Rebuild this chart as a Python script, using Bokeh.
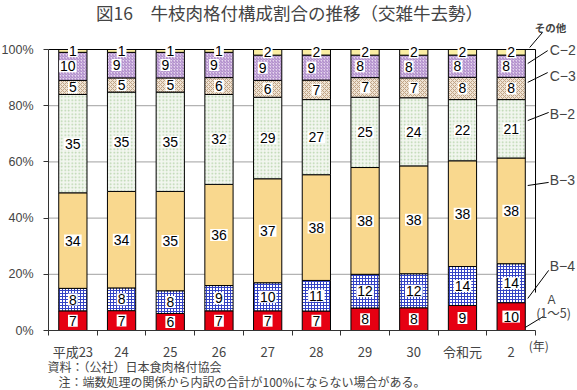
from bokeh.plotting import figure
from bokeh.models import ColumnDataSource, Label, Arrow, FixedTicker, Range1d
from bokeh.core.properties import value
from bokeh.embed import file_html
from bokeh.resources import INLINE

# ---- data ----
years = ["平成23", "24", "25", "26", "27", "28", "29", "30", "令和元", "2"]
series_names = ["A", "B-4", "B-3", "B-2", "C-3", "C-2", "その他"]
a_vals = [7, 7, 6, 7, 7, 7, 8, 8, 9, 10]
b4_vals = [8, 8, 8, 9, 10, 11, 12, 12, 14, 14]
b3_vals = [34, 34, 35, 36, 37, 38, 38, 38, 38, 38]
b2_vals = [35, 35, 35, 32, 29, 27, 25, 24, 22, 21]
c3_vals = [5, 5, 5, 6, 6, 7, 7, 7, 8, 8]
c2_vals = [10, 9, 9, 9, 9, 9, 8, 8, 8, 8]
other_vals = [1, 1, 1, 1, 2, 2, 2, 2, 2, 2]
y_ticks = [0, 20, 40, 60, 80, 100]
y_tick_labels = ["0%", "20%", "40%", "60%", "80%", "100%"]

series = [a_vals, b4_vals, b3_vals, b2_vals, c3_vals, c2_vals, other_vals]

styles = [
    dict(fill_color="#e60012"),
    dict(fill_color="#ffffff", hatch_pattern="+", hatch_color="#3443c4", hatch_scale=3, hatch_weight=1),
    dict(fill_color="#f9d88e"),
    dict(fill_color="#f2f6ef", hatch_pattern=".", hatch_color="#b4d2a8", hatch_scale=3.5, hatch_weight=1),
    dict(fill_color="#efe3d3", hatch_pattern="x", hatch_color="#bfa386", hatch_scale=4, hatch_weight=1),
    dict(fill_color="#e6d5ee", hatch_pattern="/", hatch_color="#a57fc4", hatch_scale=3, hatch_weight=1),
    dict(fill_color="#fbeea4"),
]
label_dx = [0, 0, 0, 0, 0, -5, 0]

NUM_FONT = "Liberation Sans"
JP_FONT = "Noto Sans CJK JP"

n = len(years)
xs = list(range(n))
x_lo, x_hi = -0.5, n - 0.5

# frame covers the whole canvas; data ranges chosen so the plot area sits where the reference has it
p = figure(width=577, height=390, output_backend="svg", toolbar_location=None,
           x_range=Range1d(-1.486, 10.362), y_range=Range1d(-21.35, 117.44),
           min_border=0, min_border_left=0, min_border_right=0,
           min_border_top=0, min_border_bottom=0)
p.title.visible = False
p.background_fill_color = "white"
p.border_fill_color = "white"
p.outline_line_color = None
p.xgrid.grid_line_color = None
p.ygrid.grid_line_color = None

# grid lines (between axis and top border)
grid_y = y_ticks[1:-1]
p.segment(x0=[x_lo] * len(grid_y), x1=[x_hi] * len(grid_y), y0=grid_y, y1=grid_y,
          line_color="#a0a0a0", line_width=1)

totals = [sum(col) for col in zip(*series)]
bottom = [0.0] * n
label_sources = []
for vals, style, dx in zip(series, styles, label_dx):
    top = [b + v * 100.0 / t for b, v, t in zip(bottom, vals, totals)]
    mid = [(b + t) / 2 for b, t in zip(bottom, top)]
    src = ColumnDataSource(dict(x=xs, bottom=bottom, top=top, mid=mid,
                                label=[str(v) for v in vals]))
    p.vbar(x="x", bottom="bottom", top="top", width=0.58, source=src,
           line_color="black", line_width=1, **style)
    label_sources.append((src, dx))
    bottom = top

# top and right border of plot area
p.segment(x0=[x_lo], x1=[x_hi], y0=[y_ticks[-1]], y1=[y_ticks[-1]], line_color="black", line_width=1)
p.segment(x0=[x_hi], x1=[x_hi], y0=[13.5], y1=[y_ticks[-1]], line_color="black", line_width=1)

for src, dx in label_sources:
    p.text(x="x", y="mid", text="label", source=src, x_offset=dx,
           text_align="center", text_baseline="middle",
           text_font=value(NUM_FONT), text_font_size="14px", text_color="black",
           background_fill_color="white", background_fill_alpha=1.0, padding=1)

# axes, placed inside the frame
p.yaxis.fixed_location = x_lo
p.yaxis.bounds = (y_ticks[0], y_ticks[-1])
p.yaxis.ticker = FixedTicker(ticks=y_ticks)
p.yaxis.major_label_overrides = {t: l for t, l in zip(y_ticks, y_tick_labels)}
p.yaxis.major_label_text_font = NUM_FONT
p.yaxis.major_label_text_font_size = "12.5px"
p.yaxis.major_tick_out = 5
p.yaxis.major_tick_in = 0
p.yaxis.minor_tick_line_color = None
p.yaxis.axis_line_color = "#333333"
p.yaxis.major_tick_line_color = "#333333"
p.yaxis.major_label_standoff = 10

p.xaxis.fixed_location = 0
p.xaxis.bounds = (x_lo, x_hi)
p.xaxis.ticker = FixedTicker(ticks=xs, minor_ticks=[i - 0.5 for i in range(n + 1)])
p.xaxis.major_label_overrides = {i: y for i, y in zip(xs, years)}
p.xaxis.major_label_text_font = JP_FONT
p.xaxis.major_label_text_font_size = "13px"
p.xaxis.major_tick_line_color = None
p.xaxis.major_tick_out = 0
p.xaxis.major_tick_in = 0
p.xaxis.minor_tick_out = 5
p.xaxis.minor_tick_in = 0
p.xaxis.minor_tick_line_color = "#333333"
p.xaxis.axis_line_color = "#333333"
p.xaxis.major_label_standoff = 6

# title & notes
p.add_layout(Label(x=4.45, y=113.0, text="図16　牛枝肉格付構成割合の推移（交雑牛去勢）",
                   text_font=JP_FONT, text_font_size="17.5px", text_align="center",
                   text_baseline="middle"))
p.add_layout(Label(x=-0.52, y=-12.8, text="資料：（公社）日本食肉格付協会",
                   text_font=JP_FONT, text_font_size="12px", text_align="left",
                   text_baseline="middle"))
p.add_layout(Label(x=-0.295, y=-18.1, text="注：端数処理の関係から内訳の合計が100%にならない場合がある。",
                   text_font=JP_FONT, text_font_size="12px", text_align="left",
                   text_baseline="middle"))
p.add_layout(Label(x=9.36, y=-5.3, text="(年)", text_font=JP_FONT, text_font_size="12px",
                   text_align="left", text_baseline="middle"))

# right-hand legend labels with leader lines
legend_items = [
    ("その他", 9.81, 107.8, "center", JP_FONT, "10.5px", "bold", (9.38, 100.7, 9.64, 106.0)),
    ("C−2", 9.79, 100.0, "left", NUM_FONT, "14px", "normal", (9.34, 95.0, 9.75, 99.6)),
    ("C−3", 9.79, 90.4, "left", NUM_FONT, "14px", "normal", (9.34, 88.3, 9.75, 91.8)),
    ("B−2", 9.79, 77.2, "left", NUM_FONT, "14px", "normal", (9.34, 74.7, 9.77, 77.6)),
    ("B−3", 9.79, 53.4, "left", NUM_FONT, "14px", "normal", (9.34, 51.6, 9.77, 52.7)),
    ("B−4", 9.79, 23.1, "left", NUM_FONT, "14px", "normal", (9.34, 11.4, 9.77, 21.4)),
    ("A", 9.83, 11.0, "center", NUM_FONT, "12px", "normal", (9.29, 1.1, 9.66, 5.0)),
    ("(1〜5)", 9.87, 6.4, "center", JP_FONT, "12.5px", "normal", None),
]
for text, x, y, align, font, size, style, leader in legend_items:
    p.add_layout(Label(x=x, y=y, text=text, text_font=font, text_font_size=size,
                       text_font_style=style, text_align=align, text_baseline="middle"))
    if leader is not None:
        x0, y0, x1, y1 = leader
        p.add_layout(Arrow(end=None, x_start=x0, y_start=y0, x_end=x1, y_end=y1,
                           line_color="black", line_width=1))

open("out.html", "w").write(file_html(p, INLINE))
